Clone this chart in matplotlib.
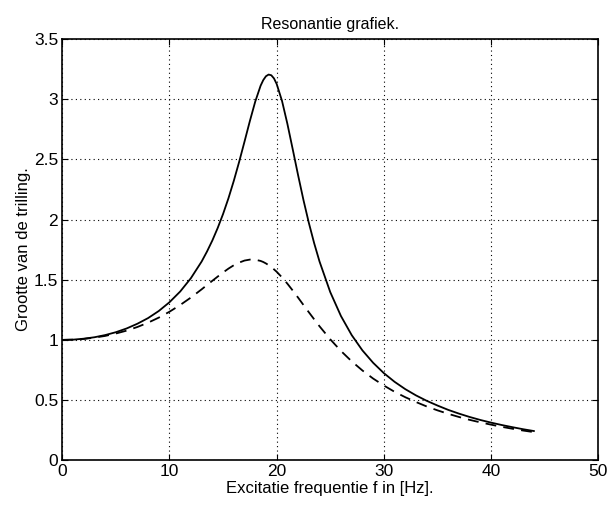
import matplotlib
matplotlib.use("Agg")
import matplotlib.pyplot as plt

plt.rcParams["font.family"] = ["Liberation Sans", "DejaVu Sans"]

# ─── DATA ─────────────────────────────────────────────────────────────────────
freq_hz = [0, 1, 2, 3, 4, 5, 6, 7, 8, 9, 10, 11, 12, 13,
           13.5, 14, 14.5, 15, 15.5, 16, 16.5, 17, 17.5, 18, 18.5, 18.75,
           19, 19.25, 19.5, 19.75, 20, 20.5, 21, 21.5, 22, 22.5, 23, 23.5, 24,
           25, 26, 27, 28, 29, 30, 31, 32, 33, 34,
           35, 36, 37, 38, 39, 40, 41, 42, 43, 44]

# solid line
amp_low_damping = [1.000, 1.002, 1.010, 1.022, 1.040, 1.064, 1.095, 1.134, 1.181, 1.240,
                   1.313, 1.402, 1.513, 1.651,
                   1.734, 1.826, 1.930, 2.046, 2.176, 2.321, 2.479, 2.647, 2.818, 2.979, 3.111, 3.158,
                   3.190, 3.204, 3.198, 3.172, 3.126, 2.985, 2.795, 2.583, 2.368, 2.162, 1.973, 1.803, 1.651,
                   1.397, 1.198, 1.040, 0.913, 0.810, 0.724, 0.652, 0.591, 0.539, 0.494,
                   0.455, 0.419, 0.388, 0.360, 0.335, 0.313, 0.293, 0.275, 0.258, 0.243]

# dashed line
amp_high_damping = [1.000, 1.002, 1.008, 1.019, 1.033, 1.053, 1.077, 1.107, 1.143, 1.185,
                    1.234, 1.290, 1.352, 1.420,
                    1.456, 1.491, 1.526, 1.560, 1.592, 1.620, 1.642, 1.659, 1.667, 1.666, 1.656, 1.647,
                    1.635, 1.621, 1.605, 1.586, 1.566, 1.519, 1.467, 1.410, 1.351, 1.290, 1.230, 1.171, 1.113,
                    1.005, 0.908, 0.822, 0.746, 0.679, 0.621, 0.569, 0.524, 0.484, 0.447,
                    0.415, 0.386, 0.360, 0.336, 0.315, 0.296, 0.278, 0.262, 0.247, 0.234]

x_ticks = [0, 10, 20, 30, 40, 50]
y_ticks = [0, 0.5, 1, 1.5, 2, 2.5, 3, 3.5]
y_tick_labels = ["0", "0.5", "1", "1.5", "2", "2.5", "3", "3.5"]

# ─── PLOT ─────────────────────────────────────────────────────────────────────
fig = plt.figure(figsize=(6.11, 5.12), dpi=100)
ax = fig.add_axes([0.102, 0.101, 0.877, 0.823])

ax.plot(freq_hz, amp_low_damping, color="black", linewidth=1.3)
ax.plot(freq_hz, amp_high_damping, color="black", linewidth=1.3,
        linestyle=(0, (6, 4)))

ax.set_xlim(0, 50)
ax.set_ylim(0, 3.5)
ax.set_xticks(x_ticks)
ax.set_xticklabels([str(t) for t in x_ticks])
ax.set_yticks(y_ticks)
ax.set_yticklabels(y_tick_labels)

ax.grid(True, color="black", linestyle=(0, (1, 3)), linewidth=0.8)
ax.tick_params(direction="in", top=True, right=True, length=4,
               labelsize=12.5, pad=3)
for sp in ax.spines.values():
    sp.set_linewidth(1.2)

ax.set_title("Resonantie grafiek.", fontsize=11.5, pad=7)
ax.set_xlabel("Excitatie frequentie f in [Hz].", fontsize=12, labelpad=1)
ax.set_ylabel("Grootte van de trilling.", fontsize=12, labelpad=2)

fig.savefig("out.png", dpi=100)
